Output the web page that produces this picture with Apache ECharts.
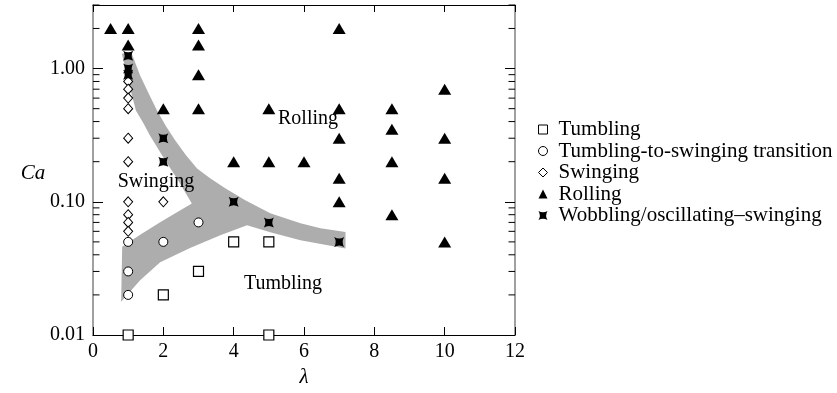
<!DOCTYPE html>
<html><head><meta charset="utf-8">
<script src="https://cdn.jsdelivr.net/npm/echarts@6/dist/echarts.min.js"></script>
<style>html,body{margin:0;padding:0;background:#fff}#c{width:837px;height:393px}</style>
</head><body><div id="c"></div>
<script>
// ---- data ----
const SERIES_NAMES = ['Tumbling', 'Tumbling-to-swinging transition', 'Swinging', 'Rolling', 'Wobbling/oscillating\u2013swinging'];
const tumbling = [[1,0.01],[2,0.02],[3,0.03],[4,0.05],[5,0.05],[5,0.01]];
const transition = [[1,0.05],[1,0.03],[1,0.02],[2,0.05],[3,0.07]];
const swinging = [[1,0.8],[1,0.7],[1,0.6],[1,0.5],[1,0.3],[1,0.2],[1,0.1],[2,0.1],[1,0.08],[1,0.07],[1,0.06]];
const rolling = [[0.5,2],[1,2],[1,1.5],[3,2],[3,1.5],[3,0.9],[3,0.5],[2,0.5],[5,0.5],[7,2],[7,0.5],[8.5,0.5],[8.5,0.35],[7,0.3],[10,0.7],[10,0.3],[4,0.2],[5,0.2],[6,0.2],[8.5,0.2],[7,0.15],[10,0.15],[7,0.1],[8.5,0.08],[10,0.05]];
const wobbling = [[1,1.25],[1,1.0],[1,0.9],[2,0.3],[2,0.2],[4,0.1],[5,0.07],[7,0.05]];
// grey band outline (lambda, Ca)
const BAND_LAMBDA = [0.82,1.00,1.22,1.43,1.62,2.05,2.42,2.81,2.34,1.91,1.34,0.83,0.80,1.34,1.91,2.76,3.62,4.38,5.04,5.90,7.18,
                     7.18,6.47,5.90,5.04,4.33,3.76,3.33,2.96,2.65,2.34,2.08,1.82,1.57,1.34,1.10];
const BAND_CA     = [1.30,0.81,0.485,0.39,0.315,0.205,0.145,0.097,0.082,0.0702,0.0566,0.0459,0.0178,0.0258,0.0352,0.0449,0.0561,0.0667,0.0591,0.0515,0.0446,
                     0.0594,0.0633,0.069,0.082,0.1026,0.1262,0.150,0.178,0.223,0.289,0.3675,0.485,0.661,0.887,1.30];
const X_MIN = 0, X_MAX = 12, X_STEP = 2;
const Y_MIN = 0.01, Y_MAX = 3;
const Y_MINOR = [0.02,0.03,0.04,0.05,0.06,0.07,0.08,0.09,0.2,0.3,0.4,0.5,0.6,0.7,0.8,0.9,2,3];
const REGION_LABELS = ['Rolling', 'Swinging', 'Tumbling'];
const Y_NAME = 'Ca';
const X_NAME = '\u03bb';

const FONT = '"Liberation Serif","Times New Roman",serif';
const STAR = 'path://M0,0 Q5,3 10,0 Q7,5 10,10 Q5,7 0,10 Q3,5 0,0 Z';

const chart = echarts.init(document.getElementById('c'), null, {renderer: 'canvas'});

const axisCommon = {
  min: Y_MIN, max: Y_MAX, type: 'log', logBase: 10, interval: 1,
  splitLine: {show: false}
};

const option = {
  animation: false,
  backgroundColor: '#fff',
  grid: {left: 93, right: 322, top: 5, bottom: 58},
  xAxis: [
    {type: 'value', min: X_MIN, max: X_MAX, interval: X_STEP, position: 'bottom',
     axisLine: {onZero: false, lineStyle: {color: '#000', width: 1}},
     axisTick: {inside: true, length: 8, lineStyle: {color: '#000'}},
     axisLabel: {fontFamily: FONT, fontSize: 20, color: '#000', margin: 7},
     splitLine: {show: false},
     name: X_NAME, nameLocation: 'middle', nameGap: 31,
     nameTextStyle: {fontFamily: FONT, fontSize: 21, fontStyle: 'italic', color: '#000'}},
    {type: 'value', min: X_MIN, max: X_MAX, interval: X_STEP, position: 'top',
     axisLine: {onZero: false, lineStyle: {color: '#000', width: 1}},
     axisTick: {inside: true, length: 7, lineStyle: {color: '#000'}},
     axisLabel: {show: false}, splitLine: {show: false}}
  ],
  yAxis: [
    Object.assign({}, axisCommon, {position: 'left',
     axisLine: {show: true, onZero: false, lineStyle: {color: '#808080', width: 1.5}},
     axisTick: {inside: true, length: 10, lineStyle: {color: '#000'}},
     axisLabel: {fontFamily: FONT, fontSize: 20, color: '#000', margin: 8, showMaxLabel: false,
                 formatter: v => Number(v).toFixed(2)}}),
    Object.assign({}, axisCommon, {position: 'right',
     axisLine: {show: true, onZero: false, lineStyle: {color: '#808080', width: 1.5}},
     axisTick: {inside: true, length: 10, lineStyle: {color: '#000'}},
     axisLabel: {show: false}})
  ],
  legend: {
    orient: 'vertical', left: 538, top: 119, padding: 0, itemWidth: 9, itemHeight: 9, itemGap: 0.5,
    itemStyle: {borderWidth: 1},
    textStyle: {fontFamily: FONT, fontSize: 21, color: '#000', lineHeight: 20, padding: [0, 0, 0, 6]},
    data: SERIES_NAMES
  },
  graphic: [
    {type: 'text', x: 33, y: 173, style: {text: Y_NAME, font: 'italic 21px ' + FONT, fill: '#000', align: 'center', verticalAlign: 'middle'}, z: 50},
    {type: 'text', x: 308, y: 119, style: {text: REGION_LABELS[0], font: '20px ' + FONT, fill: '#000', align: 'center', verticalAlign: 'middle'}, z: 50},
    {type: 'text', x: 156, y: 182, style: {text: REGION_LABELS[1], font: '20px ' + FONT, fill: '#000', align: 'center', verticalAlign: 'middle'}, z: 50},
    {type: 'text', x: 283, y: 284, style: {text: REGION_LABELS[2], font: '20px ' + FONT, fill: '#000', align: 'center', verticalAlign: 'middle'}, z: 50}
  ],
  series: [
    {type: 'custom', name: 'band', silent: true, z: 1, clip: false,
     data: BAND_LAMBDA.map((x, i) => [x, BAND_CA[i]]),
     renderItem: function (params, api) {
       if (params.dataIndex !== 0) return null;
       const pts = BAND_LAMBDA.map((x, i) => api.coord([x, BAND_CA[i]]));
       return {type: 'polygon', shape: {points: pts}, style: {fill: '#adadad', stroke: null}};
     }},
    {type: 'custom', name: 'minorTicks', silent: true, z: 3, clip: false,
     data: Y_MINOR.map(v => [X_MIN, v]),
     renderItem: function (params, api) {
       const v = api.value(1);
       const pL = api.coord([X_MIN, v]);
       const pR = api.coord([X_MAX, v]);
       return {type: 'group', children: [
         {type: 'line', shape: {x1: pL[0], y1: pL[1], x2: pL[0] + 6.5, y2: pL[1]}, style: {stroke: '#000', lineWidth: 1}},
         {type: 'line', shape: {x1: pR[0] - 6.5, y1: pR[1], x2: pR[0], y2: pR[1]}, style: {stroke: '#000', lineWidth: 1}}
       ]};
     }},
    {type: 'scatter', name: SERIES_NAMES[0], data: tumbling, symbol: 'rect', symbolSize: 10, z: 5,
     itemStyle: {color: '#fff', borderColor: '#000', borderWidth: 1.2, opacity: 1}},
    {type: 'scatter', name: SERIES_NAMES[1], data: transition, symbol: 'circle', symbolSize: 9, z: 5,
     itemStyle: {color: '#fff', borderColor: '#000', borderWidth: 1, opacity: 1}},
    {type: 'scatter', name: SERIES_NAMES[2], data: swinging, symbol: 'diamond', symbolSize: [9, 10], z: 5,
     itemStyle: {color: '#fff', borderColor: '#000', borderWidth: 1, opacity: 1}},
    {type: 'scatter', name: SERIES_NAMES[3], data: rolling, symbol: 'triangle', symbolSize: [13, 11], z: 5,
     itemStyle: {color: '#000', opacity: 1}},
    {type: 'scatter', name: SERIES_NAMES[4], data: wobbling, symbol: STAR, symbolSize: 10, z: 6,
     itemStyle: {color: '#000', opacity: 1}}
  ]
};
chart.setOption(option);
</script>
</body></html>
